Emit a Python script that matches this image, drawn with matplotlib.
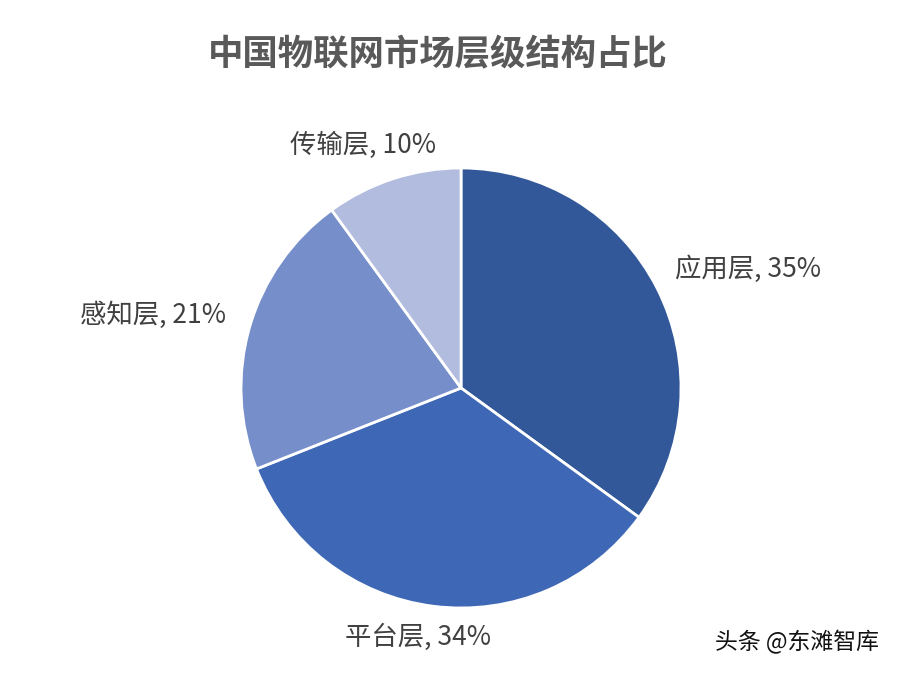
import matplotlib
matplotlib.use("Agg")
import matplotlib.pyplot as plt
import numpy as np

plt.rcParams['font.family'] = ['Noto Sans CJK SC', 'DejaVu Sans']

# data
layers = ['应用层', '平台层', '感知层', '传输层']
shares = [35, 34, 21, 10]
colors = ['#325899', '#3e68b6', '#768fcb', '#b2bcdf']
title = '中国物联网市场层级结构占比'

fig = plt.figure(figsize=(9, 6.73), dpi=100)
ax = fig.add_axes([0.2678, 0.0966, 440 / 900, 440 / 673])

wedges, _ = ax.pie(shares, colors=colors, startangle=90, counterclock=False,
                   radius=1, wedgeprops=dict(edgecolor='white', linewidth=2))
ax.set_xlim(-1, 1)
ax.set_ylim(-1, 1)
ax.set_aspect('equal')
ax.axis('off')

# label distance (in radii) and small angle tweaks
label_r = [1.41, 1.15, 1.44, 1.19]
label_da = [-4.5, -2.5, 3, 4]
for w, name, v, r, da in zip(wedges, layers, shares, label_r, label_da):
    ang = np.deg2rad((w.theta1 + w.theta2) / 2 + da)
    ax.text(r * np.cos(ang), r * np.sin(ang), f'{name}, {v}%',
            ha='center', va='center', fontsize=19, color='#404040')

fig.text(0.486, 0.918, title, ha='center', va='center', fontsize=25.5,
         fontweight='bold', color='#595959')
fig.text(0.886, 0.046, '头条 @东滩智库', ha='center', va='center',
         fontsize=16.5, color='#111111')

fig.savefig('out.png', dpi=100)
